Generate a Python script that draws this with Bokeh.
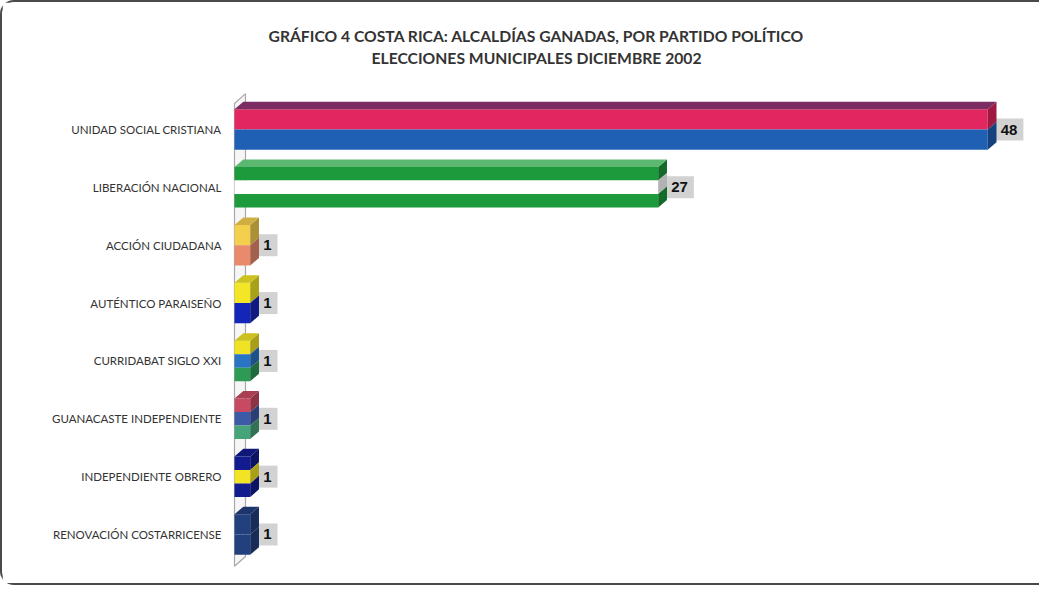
from bokeh.plotting import figure
from bokeh.models import Range1d, FixedTicker, Title
from bokeh.embed import file_html
from bokeh.resources import INLINE
from bokeh.core.properties import value

# ---------------- data ----------------
title_line1 = "GRÁFICO 4 COSTA RICA: ALCALDÍAS GANADAS, POR PARTIDO POLÍTICO"
title_line2 = "ELECCIONES  MUNICIPALES DICIEMBRE 2002"
parties = [
    "UNIDAD SOCIAL CRISTIANA",
    "LIBERACIÓN NACIONAL",
    "ACCIÓN CIUDADANA",
    "AUTÉNTICO PARAISEÑO",
    "CURRIDABAT SIGLO XXI",
    "GUANACASTE INDEPENDIENTE",
    "INDEPENDIENTE OBRERO",
    "RENOVACIÓN COSTARRICENSE",
]
alcaldias = [48, 27, 1, 1, 1, 1, 1, 1]
value_labels = [str(v) for v in alcaldias]

# ---------------- styles ----------------
flag_colors = {
    "UNIDAD SOCIAL CRISTIANA": ["#e2265f", "#1f5fb4"],
    "LIBERACIÓN NACIONAL": ["#1c9a3c", "#ffffff", "#1c9a3c"],
    "ACCIÓN CIUDADANA": ["#f4cf4e", "#e98a6c"],
    "AUTÉNTICO PARAISEÑO": ["#f2e626", "#1426b8"],
    "CURRIDABAT SIGLO XXI": ["#f0e324", "#2a74c4", "#2e9a55"],
    "GUANACASTE INDEPENDIENTE": ["#c84a62", "#3d5aa6", "#46a37a"],
    "INDEPENDIENTE OBRERO": ["#121c8e", "#f2e424", "#121c8e"],
    "RENOVACIÓN COSTARRICENSE": ["#22407e", "#22407e"],
}
top_colors = {
    "UNIDAD SOCIAL CRISTIANA": "#7a2c63",
    "LIBERACIÓN NACIONAL": "#5cb870",
}


def shade(hx, f):
    hx = hx.lstrip("#")
    r, g, b = (int(hx[i:i + 2], 16) for i in (0, 2, 4))
    return "#%02x%02x%02x" % (int(r * f), int(g * f), int(b * f))


FONT = "Lato"
BAR_H = 0.35      # half height of the front face, category units
DX, DY = 0.56, 0.13   # 3D depth
WALL_TOP, Y_BOT = -0.45, 7.55
DXW, DYW = 0.70, 0.17

p = figure(
    width=1039, height=585,
    x_range=Range1d(-0.255, 51.3),
    y_range=Range1d(7.605, -0.657),
    output_backend="svg", toolbar_location=None,
    min_border_left=228, min_border_right=2,
    min_border_top=89, min_border_bottom=18,
    title=None,
)
p.styles = {
    "border-top": "2px solid #4a4a4a",
    "border-left": "2px solid #4a4a4a",
    "border-bottom": "2px solid #4a4a4a",
    "border-top-left-radius": "14px",
    "border-bottom-left-radius": "14px",
    "box-sizing": "border-box",
}
p.outline_line_color = None
p.xgrid.visible = False
p.ygrid.visible = False
p.xaxis.visible = False

ys = list(range(len(parties)))
p.yaxis.ticker = FixedTicker(ticks=ys)
p.yaxis.major_label_overrides = {i: name for i, name in zip(ys, parties)}
p.yaxis.axis_line_color = None
p.yaxis.major_tick_line_color = None
p.yaxis.minor_tick_line_color = None
p.yaxis.major_label_text_font = FONT
p.yaxis.major_label_text_font_size = "11.5px"
p.yaxis.major_label_text_color = "#333333"
p.yaxis.major_label_standoff = 3

# titles: a blank spacer next to the frame, then the two title lines
spacer = Title(text=" ", text_font_size="1px", standoff=20, vertical_align="middle")
t2 = Title(text=title_line2, align="left", offset=141, text_font=FONT,
           text_font_size="15.7px", text_font_style="bold", text_color="#333333",
           standoff=2, vertical_align="middle")
t1 = Title(text=title_line1, align="left", offset=38, text_font=FONT,
           text_font_size="15.7px", text_font_style="bold", text_color="#333333",
           standoff=2, vertical_align="middle")
p.add_layout(spacer, "above")
p.add_layout(t2, "above")
p.add_layout(t1, "above")

# back wall
p.patch([0, 0, DXW, DXW], [Y_BOT, WALL_TOP, WALL_TOP - DYW, Y_BOT - DYW],
        fill_color="#f6f6f6", line_color="#a8a8a8", line_width=1.2)

# value labels (boxes behind the bars)
p.text(x=alcaldias, y=ys, text=value_labels, x_offset=7,
       text_align="left", text_baseline="middle",
       text_font=value("Liberation Sans"), text_font_size="15px",
       text_font_style="bold", text_color="#111111",
       background_fill_color="#d2d2d2", padding=6)

# bars
for i, (name, v) in enumerate(zip(parties, alcaldias)):
    cols = flag_colors[name]
    n = len(cols)
    sh = 2 * BAR_H / n
    for k, c in enumerate(cols):
        yc = i - BAR_H + (k + 0.5) * sh
        p.hbar(y=[yc], left=[0], right=[v], height=sh, fill_color=c,
               line_color=None)
        # side face stripe
        y_t = i - BAR_H + k * sh
        y_b = y_t + sh
        p.patch([v, v + DX, v + DX, v], [y_t, y_t - DY, y_b - DY, y_b],
                fill_color=shade(c, 0.7), line_color=None)
    # top face
    tc = top_colors.get(name, shade(cols[0], 0.85))
    y_t = i - BAR_H
    p.patch([0, v, v + DX, DX], [y_t, y_t, y_t - DY, y_t - DY],
            fill_color=tc, line_color=None)

open("out.html", "w").write(file_html(p, INLINE))
